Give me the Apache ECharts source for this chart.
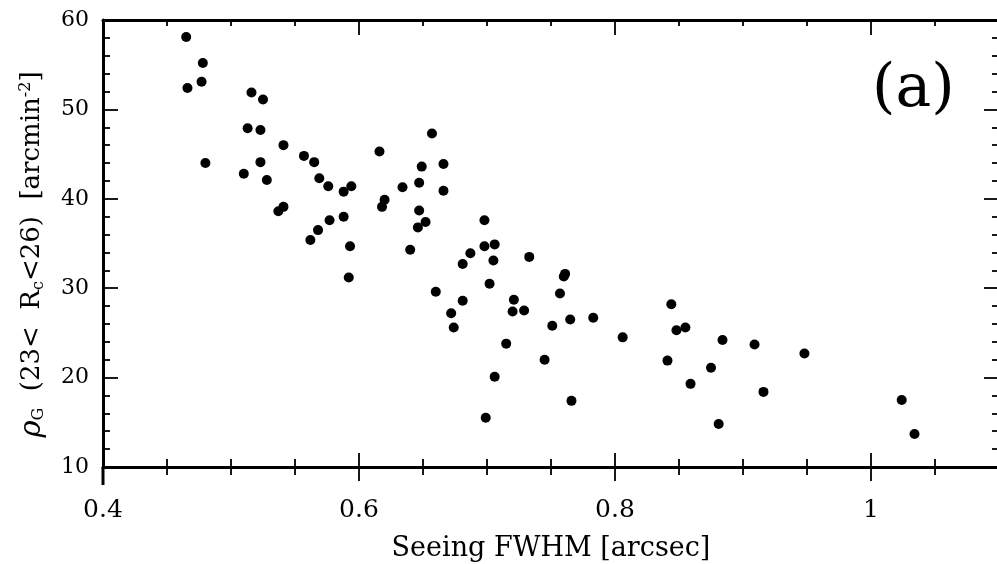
<!DOCTYPE html>
<html>
<head>
<meta charset="utf-8">
<title>Galaxy density vs seeing</title>
<script src="https://cdn.jsdelivr.net/npm/echarts@6/dist/echarts.min.js"></script>
<style>
  html, body { margin: 0; padding: 0; background: #fff; }
  #chart { width: 997px; height: 564px; }
</style>
</head>
<body>
<div id="chart"></div>
<script>
// seeing FWHM [arcsec] for each field
const seeingFwhm = [
  0.465, 0.466, 0.478, 0.477, 0.480, 0.516, 0.525, 0.513, 0.523, 0.510,
  0.523, 0.528, 0.541, 0.537, 0.541, 0.557, 0.565, 0.569, 0.576, 0.562,
  0.568, 0.577, 0.588, 0.594, 0.588, 0.593, 0.592, 0.616, 0.618, 0.620,
  0.634, 0.657, 0.649, 0.647, 0.666, 0.666, 0.647, 0.652, 0.646, 0.640,
  0.660, 0.698, 0.698, 0.706, 0.705, 0.687, 0.681, 0.702, 0.733, 0.672,
  0.674, 0.681, 0.721, 0.720, 0.729, 0.715, 0.706, 0.699, 0.761, 0.760,
  0.757, 0.745, 0.751, 0.765, 0.783, 0.766, 0.806, 0.844, 0.848, 0.855,
  0.841, 0.859, 0.884, 0.875, 0.881, 0.909, 0.916, 0.948, 1.024, 1.034
];
// rho_G (23 < Rc < 26) [arcmin^-2]
const galaxyDensity = [
  58.1, 52.4, 55.2, 53.1, 44.0, 51.9, 51.1, 47.9, 47.7, 42.8,
  44.1, 42.1, 46.0, 38.6, 39.1, 44.8, 44.1, 42.3, 41.4, 35.4,
  36.5, 37.6, 40.8, 41.4, 38.0, 34.7, 31.2, 45.3, 39.1, 39.9,
  41.3, 47.3, 43.6, 41.8, 43.9, 40.9, 38.7, 37.4, 36.8, 34.3,
  29.6, 37.6, 34.7, 34.9, 33.1, 33.9, 32.7, 30.5, 33.5, 27.2,
  25.6, 28.6, 28.7, 27.4, 27.5, 23.8, 20.1, 15.5, 31.6, 31.3,
  29.4, 22.0, 25.8, 26.5, 26.7, 17.4, 24.5, 28.2, 25.3, 25.6,
  21.9, 19.3, 24.2, 21.1, 14.8, 23.7, 18.4, 22.7, 17.5, 13.7
];

const xMajorTicks = [0.4, 0.6, 0.8, 1.0];
const xMinorTicks = [0.45, 0.5, 0.55, 0.65, 0.7, 0.75, 0.85, 0.9, 0.95, 1.05];
const yMajorTicks = [10, 20, 30, 40, 50, 60];
const yMinorTicks = [12, 14, 16, 18, 22, 24, 26, 28, 32, 34, 36, 38, 42, 44, 46, 48, 52, 54, 56, 58];

const FONT = '"DejaVu Serif", serif';

const chart = echarts.init(document.getElementById('chart'));

const points = seeingFwhm.map((x, i) => [x, galaxyDensity[i]]);

// an axis that only draws a set of ticks
const tickAxis = (dim, position, values, length, inside) => {
  const base = {
    type: 'value',
    position: position,
    splitLine: { show: false },
    axisLine: { show: false, onZero: false },
    axisLabel: { show: false },
    axisTick: {
      show: true,
      inside: inside,
      length: length,
      customValues: values,
      lineStyle: { color: '#000', width: 1.8 }
    }
  };
  if (dim === 'x') {
    base.min = 0.4;
    base.max = 1.1;
  } else {
    base.min = 10;
    base.max = 60;
  }
  return base;
};

const option = {
  backgroundColor: '#fff',
  animation: false,
  textStyle: { fontFamily: FONT },
  title: {
    text: '(a)',
    left: 867,
    top: 55,
    textStyle: { fontFamily: FONT, fontSize: 60, fontWeight: 'normal', color: '#000' }
  },
  grid: {
    left: 103,
    top: 20,
    width: 896,
    height: 447,
    outerBoundsMode: 'none',
    containLabel: false
  },
  xAxis: [
    {
      type: 'value',
      position: 'bottom',
      min: 0.4,
      max: 1.1,
      splitLine: { show: false },
      axisLine: { show: true, onZero: false, lineStyle: { color: '#000', width: 3 } },
      axisTick: {
        show: true,
        inside: true,
        length: 14,
        customValues: xMajorTicks,
        lineStyle: { color: '#000', width: 1.8 }
      },
      axisLabel: {
        customValues: xMajorTicks,
        margin: 31,
        color: '#000',
        fontFamily: FONT,
        fontSize: 25,
        formatter: (v) => (Math.abs(v - 1) < 1e-9 ? '1' : v.toFixed(1))
      },
      name: 'Seeing FWHM [arcsec]',
      nameLocation: 'middle',
      nameGap: 68,
      nameTextStyle: { color: '#000', fontFamily: FONT, fontSize: 27 }
    },
    tickAxis('x', 'bottom', xMajorTicks, 14, false),
    tickAxis('x', 'bottom', xMinorTicks, 8, true),
    tickAxis('x', 'bottom', xMinorTicks, 8, false),
    Object.assign(tickAxis('x', 'top', xMajorTicks, 15, true), {
      axisLine: { show: true, onZero: false, lineStyle: { color: '#000', width: 3 } }
    }),
    tickAxis('x', 'top', xMinorTicks, 6, true)
  ],
  yAxis: [
    {
      type: 'value',
      position: 'left',
      min: 10,
      max: 60,
      splitLine: { show: false },
      axisLine: { show: true, onZero: false, lineStyle: { color: '#000', width: 3 } },
      axisTick: {
        show: true,
        inside: true,
        length: 15,
        customValues: yMajorTicks,
        lineStyle: { color: '#000', width: 1.8 }
      },
      axisLabel: {
        customValues: yMajorTicks,
        margin: 14,
        color: '#000',
        fontFamily: FONT,
        fontSize: 22
      },
      name: '{rho|ρ}{sub|G}  (23<  R{sub|c}<26)  [arcmin{sup|-2}]',
      nameLocation: 'middle',
      nameGap: 56,
      nameTextStyle: {
        color: '#000',
        fontFamily: FONT,
        fontSize: 26,
        padding: [0, 22, 0, 0],
        rich: {
          rho: { fontFamily: FONT, fontSize: 29, fontStyle: 'italic', color: '#000' },
          sub: { fontFamily: FONT, fontSize: 16, verticalAlign: 'bottom', color: '#000', padding: [9, 0, 0, 0] },
          sup: { fontFamily: FONT, fontSize: 16, verticalAlign: 'top', color: '#000', padding: [0, 0, 9, 0] }
        }
      }
    },
    tickAxis('y', 'left', yMinorTicks, 7, true),
    Object.assign(tickAxis('y', 'right', yMajorTicks, 15, true), {
      axisLine: { show: true, onZero: false, lineStyle: { color: '#000', width: 3 } }
    }),
    tickAxis('y', 'right', yMinorTicks, 7, true)
  ],
  // the left frame line runs a little past the bottom axis
  graphic: [{
    type: 'line',
    shape: { x1: 103, y1: 467, x2: 103, y2: 485 },
    style: { stroke: '#000', lineWidth: 3 }
  }],
  series: [{
    type: 'scatter',
    xAxisIndex: 0,
    yAxisIndex: 0,
    symbol: 'circle',
    symbolSize: 10,
    itemStyle: { color: '#000', opacity: 1 },
    data: points
  }]
};

chart.setOption(option);
</script>
</body>
</html>
